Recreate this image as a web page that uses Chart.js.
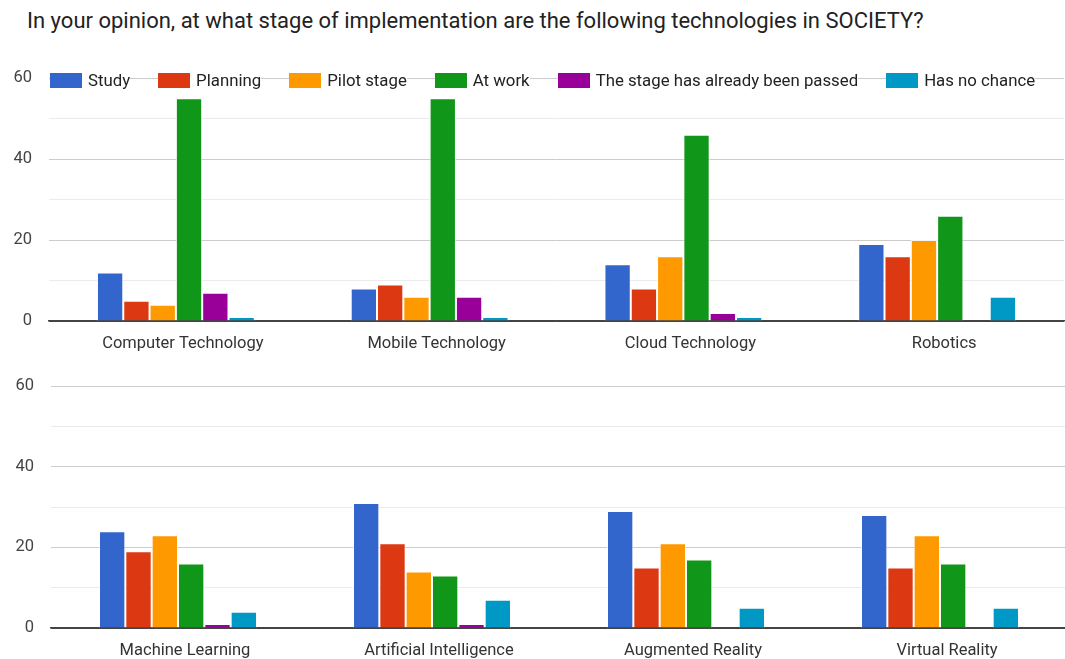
<!DOCTYPE html>
<html>
<head>
<meta charset="utf-8">
<script src="https://cdn.jsdelivr.net/npm/chart.js@4.4.1/dist/chart.umd.min.js"></script>
<style>
  html, body { margin: 0; padding: 0; background: #fff; overflow: hidden; }
  body { width: 1065px; height: 659px; position: relative; font-family: Roboto, Arial, sans-serif; }
  #title { position: absolute; left: 27px; top: 8px; font-size: 22px; color: #222; white-space: nowrap; }
  #topWrap { position: absolute; left: 0; top: 40px; width: 1065px; height: 322px; }
  #bottomWrap { position: absolute; left: 0; top: 355px; width: 1067px; height: 312px; }
  #legend { position: absolute; left: 50px; top: 71px; display: flex; gap: 28px; }
  #legend .item { display: flex; align-items: center; background: #fff; height: 18px; }
  #legend .box { width: 32px; height: 15px; margin-right: 6px; }
  #legend span { font-size: 16.8px; color: #222; }
</style>
</head>
<body>
<div id="title">In your opinion, at what stage of implementation are the following technologies in SOCIETY?</div>
<div id="topWrap"><canvas id="topChart"></canvas></div>
<div id="bottomWrap"><canvas id="bottomChart"></canvas></div>
<div id="legend"></div>
<script>
// categories (first four = upper chart, last four = lower chart)
const categories = [
  "Computer Technology", "Mobile Technology", "Cloud Technology", "Robotics",
  "Machine Learning", "Artificial Intelligence", "Augmented Reality", "Virtual Reality"
];
const stages = ["Study", "Planning", "Pilot stage", "At work", "The stage has already been passed", "Has no chance"];
const stageColors = ["#3366cc", "#dc3912", "#ff9900", "#109618", "#990099", "#0099c6"];

// values per stage, same order as categories
const study     = [12, 8, 14, 19, 24, 31, 29, 28];
const planning  = [5, 9, 8, 16, 19, 21, 15, 15];
const pilot     = [4, 6, 16, 20, 23, 14, 21, 23];
const atWork    = [55, 55, 46, 26, 16, 13, 17, 16];
const passed    = [7, 6, 2, 0, 1, 1, 0, 0];
const noChance  = [1, 1, 1, 6, 4, 7, 5, 5];
const series = [study, planning, pilot, atWork, passed, noChance];

const yTicks = [0, 20, 40, 60];

const makeChart = (id, from, to, padding) => {
  const ctx = document.getElementById(id).getContext("2d");
  return new Chart(ctx, {
    type: "bar",
    data: {
      labels: categories.slice(from, to),
      datasets: stages.map((name, i) => ({
        label: name,
        data: series[i].slice(from, to),
        backgroundColor: stageColors[i],
        borderColor: "rgba(255,255,255,0.75)",
        borderWidth: 1,
        categoryPercentage: 0.622,
        barPercentage: 1,
      })),
    },
    options: {
      responsive: true,
      maintainAspectRatio: false,
      animation: false,
      layout: { padding },
      plugins: { legend: { display: false }, tooltip: { enabled: false } },
      scales: {
        x: {
          grid: { display: false, drawTicks: false },
          border: { color: "#444", width: 1.5 },
          ticks: { color: "#333", font: { family: "Roboto", size: 16.5 }, padding: 13, labelOffset: 7, maxRotation: 0 },
          afterFit: (s) => { s.height = 31; },
        },
        y: {
          min: 0,
          max: 60,
          border: { display: false },
          grid: {
            drawTicks: false,
            color: (c) => (c.tick.value === 0 ? "#444" : c.tick.value % 20 === 0 ? "#cccccc" : "#ebebeb"),
          },
          ticks: {
            stepSize: 10,
            padding: 17,
            color: "#444",
            font: { family: "Roboto", size: 16.5 },
            callback: (v) => (yTicks.includes(v) ? v : ""),
          },
          afterFit: (s) => { s.width = 35; },
        },
      },
    },
  });
};

// chart areas: upper 78..321, lower 386..628 (page pixels)
const topChart = makeChart("topChart", 0, 4, { left: 14, right: 1, top: 38, bottom: 10 });
const bottomChart = makeChart("bottomChart", 4, 8, { left: 16, right: 0, top: 31, bottom: 8 });

// html legend built from the upper chart datasets
const legendEl = document.getElementById("legend");
topChart.data.datasets.forEach((ds) => {
  const item = document.createElement("div");
  item.className = "item";
  const box = document.createElement("div");
  box.className = "box";
  box.style.background = ds.backgroundColor;
  const txt = document.createElement("span");
  txt.textContent = ds.label;
  item.appendChild(box);
  item.appendChild(txt);
  legendEl.appendChild(item);
});
</script>
</body>
</html>
